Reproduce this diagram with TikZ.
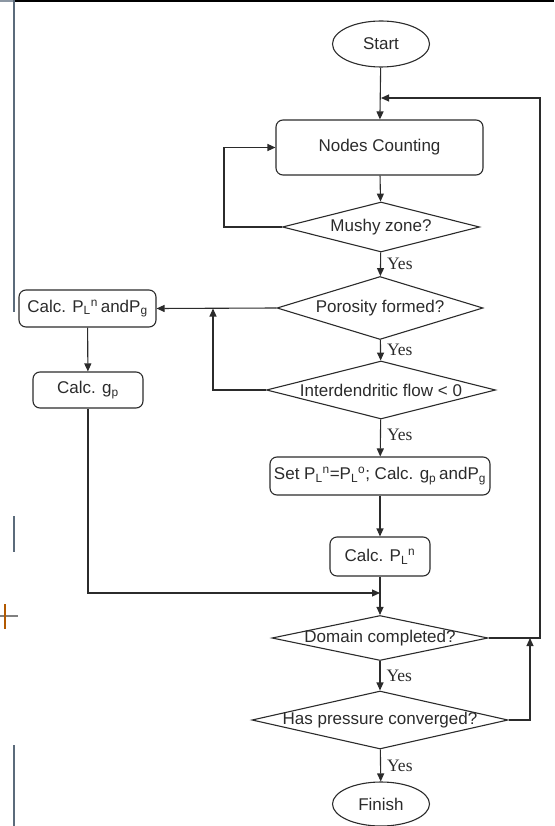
\documentclass[tikz,border=0pt]{standalone}
\usepackage{fontspec}
\setmainfont{Liberation Sans}
\newfontfamily\yesfont{Liberation Serif}
\usetikzlibrary{shapes.geometric,arrows.meta}

\definecolor{ink}{HTML}{2B2B2B}
\definecolor{edge}{HTML}{5B6B7B}

\newcommand{\PLn}{P\textsubscript{L}\textsuperscript{n}}
\newcommand{\PLo}{P\textsubscript{L}\textsuperscript{o}}

\begin{document}
\begin{tikzpicture}[x=1pt,y=-1pt,
  every node/.style={font=\fontsize{17}{19}\selectfont, text=ink},
  line/.style={draw=ink, line width=1.1pt},
  flow/.style={line, -{Triangle[length=8pt,width=7pt]}},
  procbox/.style={draw=ink, line width=1.1pt, rectangle, rounded corners=7pt,
    inner sep=0pt},
  term/.style={draw=ink, line width=1.1pt, ellipse, inner sep=0pt},
  decide/.style={draw=ink, line width=1.1pt, diamond, inner sep=0pt},
  yes/.style={font=\yesfont\fontsize{17.5}{19}\selectfont, anchor=west, inner sep=0pt},
  frameline/.style={draw=edge, line width=1.4pt}
]
\useasboundingbox (0,0) rectangle (554,826);

% page edges around the chart
\fill[black] (15,0) rectangle (554,2.2);
\fill[edge!70] (0,0) rectangle (15,2.2);
\draw[frameline] (14,0) -- (14,312);
\draw[frameline] (14,516) -- (14,552);
\draw[frameline] (14,745) -- (14,826);
\draw[draw=gray, line width=1.4pt] (0,616) -- (18,616);
\draw[draw=orange!70!black, line width=1.2pt] (5,604) -- (5,629);

% terminals
\node[term, minimum width=97pt, minimum height=46pt] (start) at (381,44) {Start};
\node[term, minimum width=97pt, minimum height=44pt] (finish) at (381,804) {Finish};

% process boxes
\node[procbox, minimum width=207pt, minimum height=55pt] (count) at (379.5,147.5) {Nodes Counting};
\node[procbox, minimum width=137pt, minimum height=37pt] (calcPg) at (87.5,308.5) {Calc. \PLn\,andP\textsubscript{g}};
\node[procbox, minimum width=110pt, minimum height=36pt] (calcgp) at (88,390) {Calc. g\textsubscript{p}};
\node[procbox, minimum width=220pt, minimum height=38pt] (setbox) at (380,476) {Set \PLn=\PLo; Calc. g\textsubscript{p}\,andP\textsubscript{g}};
\node[procbox, minimum width=100pt, minimum height=39pt] (calcPL) at (380,556.5) {Calc. \PLn};

% decisions
\node[decide, minimum width=197pt, minimum height=50pt] (mushy) at (381,227) {\makebox[0pt]{Mushy zone?}};
\node[decide, minimum width=206pt, minimum height=63pt] (poro) at (380,308) {\makebox[0pt]{Porosity formed?}};
\node[decide, minimum width=229pt, minimum height=58pt] (inter) at (381,390) {\makebox[0pt]{Interdendritic flow < 0}};
\node[decide, minimum width=216pt, minimum height=45pt] (domain) at (380,638) {\makebox[0pt]{Domain completed?}};
\node[decide, minimum width=256pt, minimum height=58pt] (press) at (380,720) {\makebox[0pt]{Has pressure converged?}};

% junction points on the main stem
\coordinate (join) at (381,98);
\coordinate (merge) at (380,593);
\coordinate (upjoin) at (213,308.5);
\coordinate (backjoin) at (530,638);

% main stem
\draw[flow] (start) -- (count);
\draw[flow] (count) -- (mushy);
\draw[flow] (mushy) -- node[yes, pos=0.5, xshift=6pt] {Yes} (poro);
\draw[flow] (poro) -- node[yes, pos=0.5, xshift=6pt] {Yes} (inter);
\draw[flow] (inter) -- node[yes, pos=0.42, xshift=6pt] {Yes} (setbox);
\draw[flow] (setbox) -- (calcPL);
\draw[flow] (calcPL) -- (domain);
\draw[flow] (domain) -- node[yes, pos=0.5, xshift=6pt] {Yes} (press);
\draw[flow] (press) -- node[yes, pos=0.5, xshift=6pt] {Yes} (finish);

% side branches
\draw[flow] (mushy.west) -- (224,227) |- (count.west);
\draw[flow] (poro.west) -- (calcPg.east);
\draw[flow] (inter.west) -- (213,390) -- (upjoin);
\draw[flow] (calcPg) -- (calcgp);
\draw[flow] (calcgp.south) |- (merge);

% loops back to the top
\draw[flow] (domain.east) -- (540,638) |- (join);
\draw[flow] (press.east) -| (backjoin);
\end{tikzpicture}
\end{document}
